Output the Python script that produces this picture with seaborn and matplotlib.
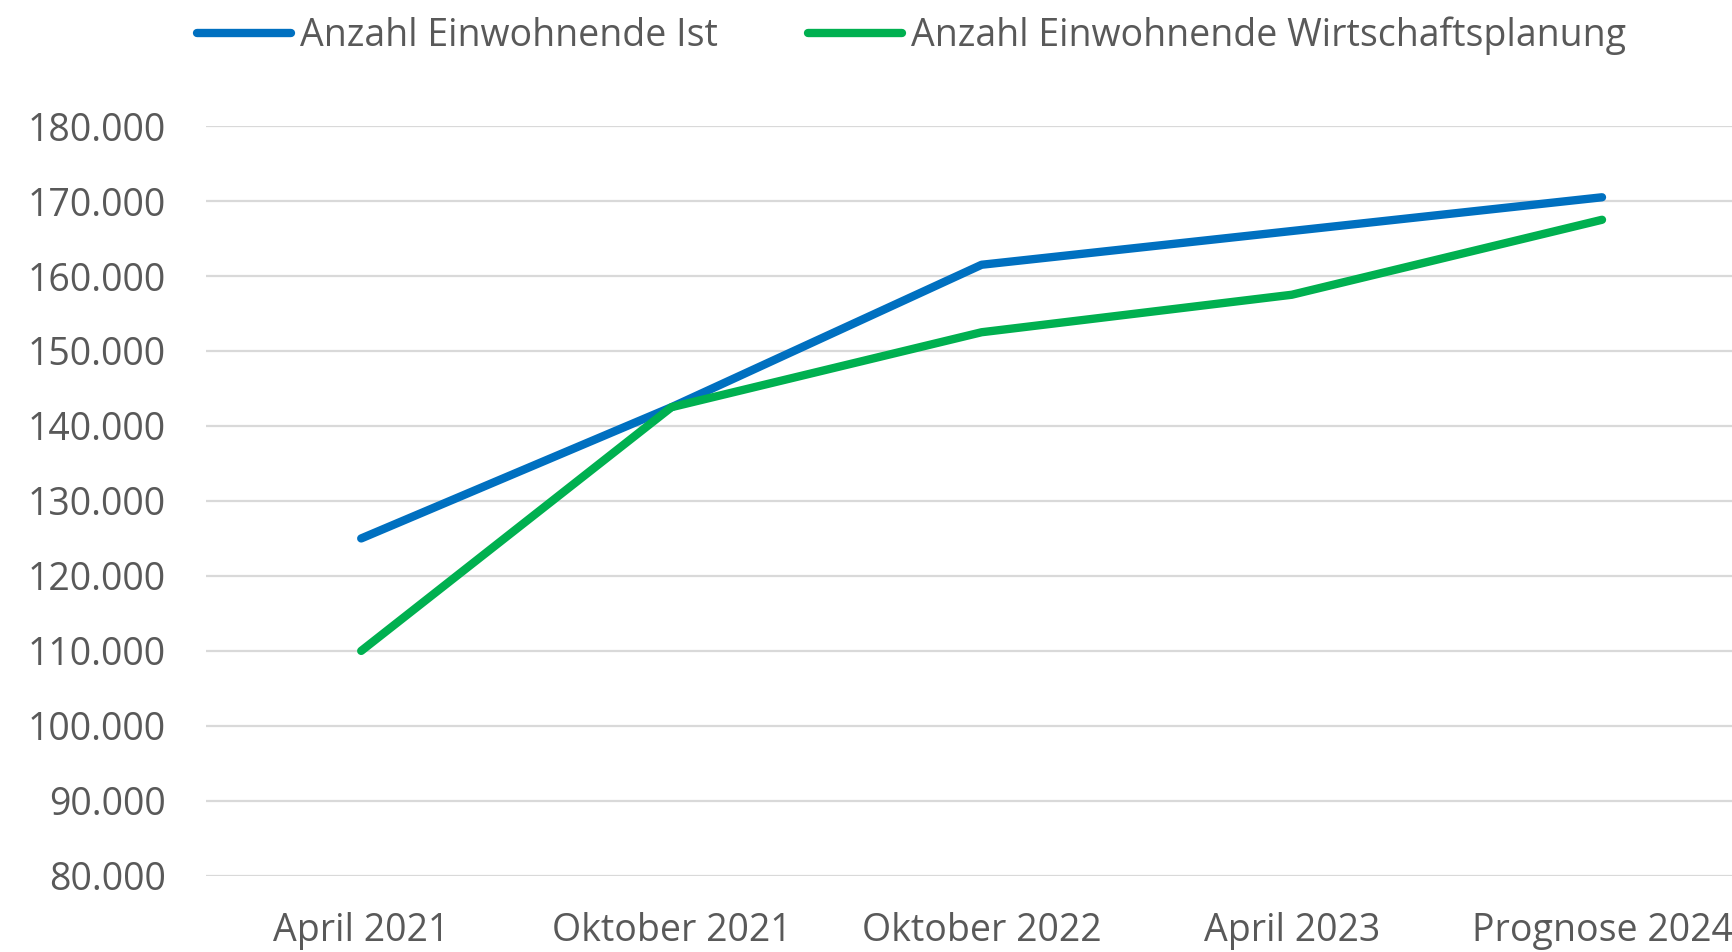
import numpy as np
import pandas as pd
import matplotlib
matplotlib.use('Agg')
import matplotlib.pyplot as plt
import matplotlib.font_manager as fm
from matplotlib.ticker import FuncFormatter
import seaborn as sns

# ---- Daten ----
zeitpunkte = ['April 2021', 'Oktober 2021', 'Oktober 2022', 'April 2023', 'Prognose 2024']
einwohnende_ist = [125000, 142500, 161500, 166000, 170500]
einwohnende_plan = [110000, 142500, 152500, 157500, 167500]
serien = ['Anzahl Einwohnende Ist', 'Anzahl Einwohnende Wirtschaftsplanung']
farben = ['#0070C0', '#00B050']

df = pd.DataFrame({
    'Zeitpunkt': zeitpunkte * 2,
    'Einwohnende': einwohnende_ist + einwohnende_plan,
    'Serie': [serien[0]] * len(zeitpunkte) + [serien[1]] * len(zeitpunkte),
})

# ---- Stil ----
sns.set_theme(style='white')
installiert = {f.name for f in fm.fontManager.ttflist}
schrift = 'Liberation Sans Narrow' if 'Liberation Sans Narrow' in installiert else 'Open Sans'
plt.rcParams['font.family'] = [schrift, 'DejaVu Sans']
textfarbe = '#595959'
gr = 27

fig = plt.figure(figsize=(17.32, 9.52), dpi=100)
# Achse ragt rechts etwas über den Bildrand hinaus (wie im Original abgeschnitten)
ax = fig.add_axes([0.119, 0.080, 0.8955, 0.7876])

sns.lineplot(data=df, x='Zeitpunkt', y='Einwohnende', hue='Serie',
             palette=farben, linewidth=6, sort=False, ax=ax,
             solid_capstyle='round', solid_joinstyle='round')

ax.set_ylim(80000, 180000)
ax.set_xlim(-0.5, len(zeitpunkte) - 0.5)
ax.set_yticks(np.arange(80000, 180001, 10000))
ax.yaxis.set_major_formatter(FuncFormatter(lambda v, p: f'{int(v):,}'.replace(',', '.')))
ax.grid(axis='y', color='#D9D9D9', linewidth=1.6)
ax.set_axisbelow(True)
for s in ax.spines.values():
    s.set_visible(False)
ax.set_xlabel('')
ax.set_ylabel('')
ax.tick_params(axis='y', length=0, pad=29, labelsize=gr, labelcolor=textfarbe)
ax.tick_params(axis='x', length=0, pad=26, labelsize=gr, labelcolor=textfarbe)

handles, labels = ax.get_legend_handles_labels()
ax.get_legend().remove()
fig.legend(handles, labels, loc='center', bbox_to_anchor=(0.5265, 0.962), ncol=2,
           frameon=False, fontsize=gr, labelcolor=textfarbe,
           handlelength=2.5, handletextpad=0.25, columnspacing=2.4)

plt.savefig('out.png', dpi=100)
